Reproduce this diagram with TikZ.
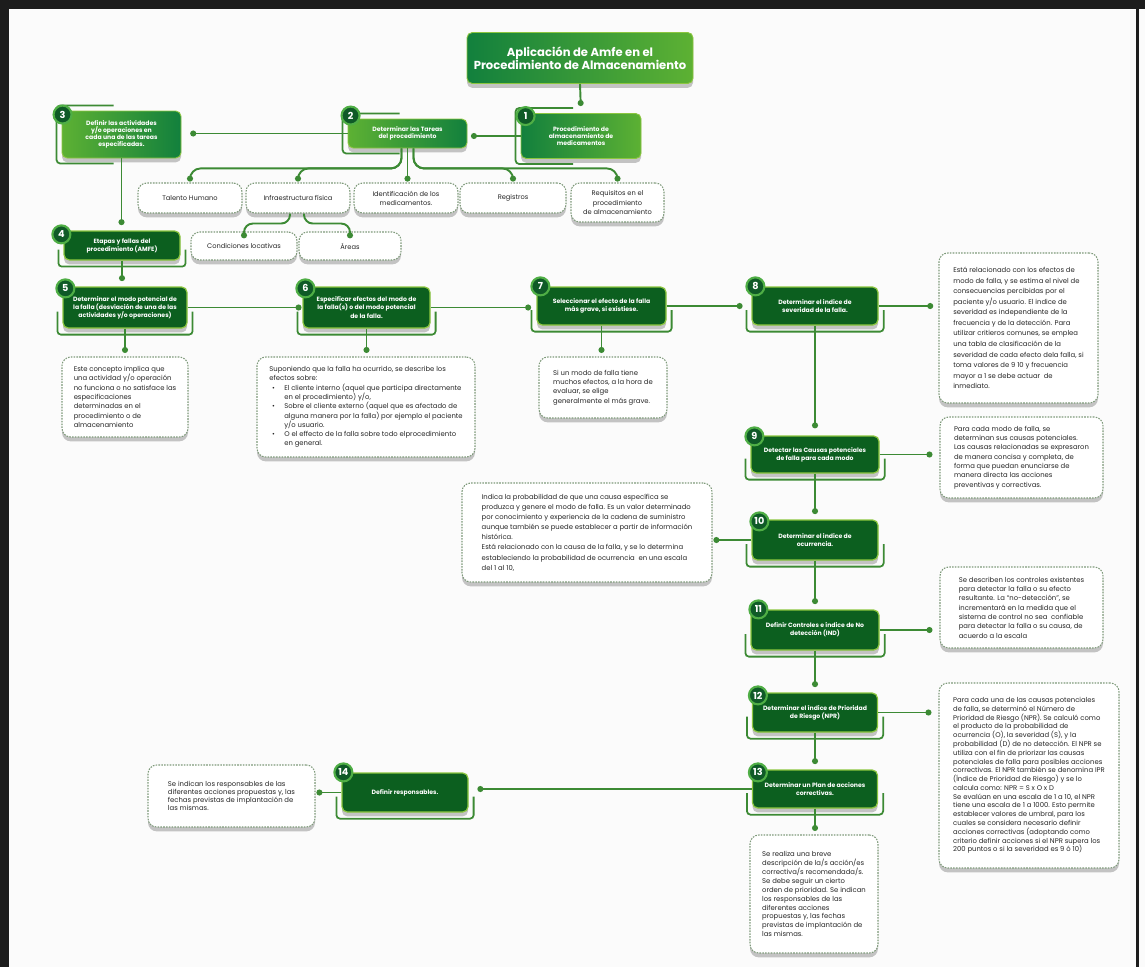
\documentclass[tikz,border=0pt]{standalone}
\usepackage{fontspec}
\setmainfont{Poppins}
\usepackage{xcolor}
\usepackage{tikz}
\usetikzlibrary{arrows.meta,calc,shadows}

\definecolor{deepgreen}{HTML}{0C5F1F}
\definecolor{limeedge}{HTML}{8CC63F}
\definecolor{linegreen}{HTML}{3C8A34}
\definecolor{badgegreen}{HTML}{0F5A27}
\definecolor{ringgreen}{HTML}{4FAE45}
\definecolor{dotedge}{HTML}{7E9A7A}
\definecolor{notetext}{HTML}{262626}
\definecolor{gradlight}{HTML}{5DB133}
\definecolor{graddark}{HTML}{12803D}
\definecolor{paper}{HTML}{FBFBFB}
\definecolor{framedark}{HTML}{1C1C1C}

\newcommand\titlefont{\fontsize{6.6}{7.6}\selectfont\bfseries}
\newcommand\headfont{\fontsize{3.5}{4.1}\selectfont\bfseries}
\newcommand\boxfont{\fontsize{3.5}{4.6}\selectfont\bfseries}
\newcommand\notefont{\fontsize{3.9}{5.3}\selectfont}
\newcommand\catfont{\fontsize{3.8}{5.2}\selectfont}
\newcommand\numfont{\fontsize{5.5}{6}\selectfont\bfseries}

\newcommand\ubr[1]{\draw[brk] ($(#1.west)+(-5,4)$) |- ($(#1.south)+(0,6)$) -| ($(#1.east)+(5,4)$);}
\newcommand\lbr[1]{\draw[brk] ($(#1.north)+(-8,-5)$) -| ($(#1.west)+(-5,0)$) |- ($(#1.south)+(-8,5)$);}

\tikzset{
  sz/.style 2 args={minimum width=#1*0.02cm, minimum height=#2*0.02cm},
  softshadow/.style={drop shadow={shadow xshift=0pt, shadow yshift=-2.5pt, opacity=0.22, fill=black}},
  link/.style={draw=linegreen, line width=1.1pt, -{Circle[length=3.4pt]}, shorten >=3pt},
  brk/.style={draw=linegreen, line width=1pt, rounded corners=2pt},
  topbox/.style={rectangle, rounded corners=3pt, draw=limeedge, line width=0.5pt, text=white, font=\headfont, align=center, inner sep=1pt, softshadow},
  darkbox/.style={rectangle, rounded corners=3pt, fill=deepgreen, draw=limeedge, line width=0.7pt, text=white, font=\boxfont, align=center, inner sep=1pt, softshadow},
  notebox/.style={rectangle, rounded corners=5pt, fill=white, draw=dotedge, line width=0.6pt, dash pattern=on 0.9pt off 0.7pt, text=notetext, font=\notefont, align=left, inner sep=2pt, softshadow},
  catbox/.style={notebox, font=\catfont, align=center},
  numdisc/.style={circle, fill=badgegreen, draw=ringgreen, line width=1.2pt, text=white, font=\numfont, inner sep=0pt, minimum size=18*0.02cm}
}

\begin{document}
\begin{tikzpicture}[x=0.02cm,y=-0.02cm]
\useasboundingbox (0,0) rectangle (1145,967);
\fill[paper] (0,0) rectangle (1145,967);
\fill[framedark] (0,0) rectangle (1145,9);
\fill[framedark] (0,0) rectangle (9,967);
\fill[framedark] (1136,9) rectangle (1138.5,967);

\node[topbox, sz={226}{51}, left color=graddark, right color=gradlight, font=\titlefont] (title) at (580,58) {Aplicación de Amfe en el\\Procedimiento de Almacenamiento};
\node[topbox, sz={120}{45}, left color=graddark, right color=gradlight] (b1) at (581,136) {Procedimiento de\\almacenamiento de\\medicamentos};
\node[topbox, sz={119}{29}, left color=gradlight, right color=graddark] (b2) at (407.5,133.5) {Determinar las Tareas\\del procedimiento};
\node[topbox, sz={119}{47}, left color=gradlight, right color=graddark] (b3) at (121.5,134.5) {Definir las actividades\\y/o operaciones en\\cada una de las tareas\\especificadas.};

\node[catbox, sz={104}{30}] (talento) at (190,198) {Talento Humano};
\node[catbox, sz={104}{30}] (infra) at (298,198) {Infraestructura física};
\node[catbox, sz={104}{30}] (ident) at (406,198) {Identificación de los\\medicamentos.};
\node[catbox, sz={106}{30}] (regis) at (513,198) {Registros};
\node[catbox, sz={93}{39}] (requi) at (617.5,202.5) {Requisitos en el\\procedimiento\\de almacenamiento};
\node[catbox, sz={106}{28}] (cond) at (244,246) {Condiciones locativas};
\node[catbox, sz={102}{28}] (areas) at (350,246) {Áreas};

\node[darkbox, sz={116}{29}] (b4) at (122,245.5) {Etapas y fallas del\\procedimiento (AMFE)};
\node[darkbox, sz={124}{41}] (b5) at (125,307.5) {Determinar el modo potencial de\\la falla (desviación de una de las\\actividades y/o operaciones)};
\node[darkbox, sz={127}{41}] (b6) at (366.5,307.5) {Especificar efectos del modo de\\la falla(s) o del modo potencial\\de la falla.};
\node[darkbox, sz={129}{38}] (b7) at (601.5,306) {Seleccionar el efecto de la falla\\más grave, si existiese.};
\node[darkbox, sz={126}{38}] (b8) at (815,306) {Determinar el indice de\\severidad de la falla.};
\node[darkbox, sz={128}{37}] (b9) at (815,454.5) {Detectar las Causas potenciales\\de falla para cada modo};
\node[darkbox, sz={126}{40}] (b10) at (815,540) {Determinar el indice de\\ocurrencia.};
\node[darkbox, sz={128}{40}] (b11) at (815,630) {Definir Controles e índice de No\\detección (IND)};
\node[darkbox, sz={125}{39}] (b12) at (815,712.5) {Determinar el índice de Prioridad\\de Riesgo (NPR)};
\node[darkbox, sz={125}{38}] (b13) at (815,789) {Determinar un Plan de acciones\\correctivas.};
\node[darkbox, sz={126}{39}] (b14) at (405,792.5) {Definir responsables.};

\node[notebox, sz={126}{80}] (d5) at (125,397) {Este concepto implica que\\una actividad y/o operación\\no funciona o no satisface las\\especificaciones\\determinadas en el\\procedimiento o de\\almacenamiento};
\node[notebox, sz={218}{100}] (d6) at (366,407) {Suponiendo que la falla ha ocurrido, se describe los\\efectos sobre:\\
\hspace*{1.5pt}\makebox[7pt][l]{•}El cliente interno (aquel que participa directamente\\
\hspace*{8.5pt}en el procedimiento) y/o,\\
\hspace*{1.5pt}\makebox[7pt][l]{•}Sobre el cliente externo (aquel que es afectado de\\
\hspace*{8.5pt}alguna manera por la falla) por ejemplo el paciente\\
\hspace*{8.5pt}y/o usuario.\\
\hspace*{1.5pt}\makebox[7pt][l]{•}O el effecto de la falla sobre todo elprocedimiento\\
\hspace*{8.5pt}en general.};
\node[notebox, sz={128}{61}] (d7) at (603,387.5) {Si un modo de falla tiene\\muchos efectos, a la hora de\\evaluar, se elige\\generalmente el más grave.};
\node[notebox, sz={159}{150}, font=\fontsize{3.9}{6}\selectfont] (d8) at (1018.5,328) {Está relacionado con los efectos de\\modo de falla, y se estima el nivel de\\consecuencias percibidas por el\\paciente y/o usuario. El indice de\\severidad es independiente de la\\frecuencia y de la detección. Para\\utilizar critieros comunes, se emplea\\una tabla de clasificación de la\\severidad de cada efecto dela falla, si\\toma valores de 9 10 y frecuencia\\mayor a 1 se debe actuar \ de\\inmediato.};
\node[notebox, sz={163}{81}] (d9) at (1021.5,457.5) {Para cada modo de falla, se\\determinan sus causas potenciales.\\Las causas relacionadas se expresaron\\de manera concisa y completa, de\\forma que puedan enunciarse de\\manera directa las acciones\\preventivas y correctivas.};
\node[notebox, sz={250}{99}, font=\fontsize{3.9}{5.8}\selectfont] (d10) at (587,532.5) {Indica la probabilidad de que una causa específica se\\produzca y genere el modo de falla. Es un valor determinado\\por conocimiento y experiencia de la cadena de suministro\\aunque también se puede establecer a partir de información\\histórica.\\Está relacionado con la causa de la falla, y se lo determina\\estableciendo la probabilidad de ocurrencia \ en una escala\\del 1 al 10,};
\node[notebox, sz={163}{81}] (d11) at (1021.5,607.5) {Se describen los controles existentes\\para detectar la falla o su efecto\\resultante. La ``no-detección'', se\\incrementará en la medida que el\\sistema de control no sea \ confiable\\para detectar la falla o su causa, de\\acuerdo a la escala};
\node[notebox, sz={180}{185}, font=\fontsize{3.9}{5}\selectfont] (d12) at (1029,775.5) {Para cada una de las causas potenciales\\de falla, se determinó el Número de\\Prioridad de Riesgo (NPR). Se calculó como\\el producto de la probabilidad de\\ocurrencia (O), la severidad (S), y la\\probabilidad (D) de no detección. El NPR se\\utiliza con el fin de priorizar las causas\\potenciales de falla para posibles acciones\\correctivas. El NPR también se denomina IPR\\(Índice de Prioridad de Riesgo) y se lo\\calcula como: NPR = S x O x D\\Se evalúan en una escala de 1 a 10, el NPR\\tiene una escala de 1 a 1000. Esto permite\\establecer valores de umbral, para los\\cuales se considera necesario definir\\acciones correctivas (adoptando como\\criterio definir acciones si el NPR supera los\\200 puntos o si la severidad es 9 ó 10)};
\node[notebox, sz={128}{118}, font=\fontsize{3.9}{5.1}\selectfont] (d13) at (814,894) {Se realiza una breve\\descripción de la/s acción/es\\correctiva/s recomendada/s.\\Se debe seguir un cierto\\orden de prioridad. Se indican\\los responsables de las\\diferentes acciones\\propuestas y, las fechas\\previstas de implantación de\\las mismas.};
\node[notebox, sz={167}{62}, font=\fontsize{3.9}{4.6}\selectfont] (d14) at (231.5,796) {Se indican los responsables de las\\diferentes acciones propuestas y, las\\fechas previstas de implantación de\\las mismas.};

\draw[link, shorten >=4pt] (title.south) -- (b1.north);
\draw[link, shorten >=2pt] (b1.west) -- (b1.west -| b2.east);
\draw[link, shorten >=5pt] (b2.west) -- (b2.west -| b3.east);
\draw[link, rounded corners=6pt, shorten >=0.5pt] ($(b2.south)+(-6,0)$) -- ++(0,20) -| (talento.north);
\draw[link, rounded corners=6pt, shorten >=0.5pt] ($(b2.south)+(-6,0)$) -- ++(0,20) -| (infra.north);
\draw[link, shorten >=0.5pt] (b2.south) -- (b2.south |- ident.north);
\draw[link, rounded corners=6pt, shorten >=0.5pt] ($(b2.south)+(6,0)$) -- ++(0,20) -| (regis.north);
\draw[link, rounded corners=6pt, shorten >=0.5pt] ($(b2.south)+(6,0)$) -- ++(0,20) -| (requi.north);
\draw[link, rounded corners=5pt, shorten >=0.5pt] ($(infra.south)+(-8,0)$) -- ++(0,10) -| (cond.north);
\draw[link, rounded corners=5pt, shorten >=0.5pt] ($(infra.south)+(6,0)$) -- ++(0,10) -| (areas.north);

\draw[link, shorten >=3pt] (b3.south) -- (b3.south |- b4.north);
\draw[link] (b4.south) -- (b4.south |- b5.north);
\draw[link, shorten >=0.5pt] (b5.east) -- (b5.east -| b6.west);
\draw[link] (b6.east) -- (b6.east -| b7.west);
\draw[link, shorten >=5pt] (b7.east) -- (b7.east -| b8.west);
\draw[link] (b8.east) -- (b8.east -| d8.west);
\draw[link, shorten >=2pt] (b5.south) -- (b5.south |- d5.north);
\draw[link, shorten >=2pt] (b6.south) -- (b6.south |- d6.north);
\draw[link, shorten >=2pt] (b7.south) -- (b7.south |- d7.north);
\draw[link, shorten >=4pt] (b8.south) -- (b8.south |- b9.north);
\draw[link, shorten >=4pt] (b9.east) -- (b9.east -| d9.west);
\draw[link] (b9.south) -- (b9.south |- b10.north);
\draw[link, shorten >=0.5pt] (b10.west) -- (b10.west -| d10.east);
\draw[link] (b10.south) -- (b10.south |- b11.north);
\draw[link, shorten >=4pt] (b11.east) -- (b11.east -| d11.west);
\draw[link] (b11.south) -- (b11.south |- b12.north);
\draw[link, shorten >=4pt] (b12.east) -- (b12.east -| d12.west);
\draw[link] (b12.south) -- (b12.south |- b13.north);
\draw[link, shorten >=2pt] (b13.south) -- (b13.south |- d13.north);
\draw[link, shorten >=5pt] (b13.west) -- (b13.west -| b14.east);
\draw[link, shorten >=0.5pt] (b14.west) -- (b14.west -| d14.east);

\lbr{b1} \lbr{b2} \lbr{b3}
\ubr{b4} \ubr{b5} \ubr{b6} \ubr{b7} \ubr{b8} \ubr{b9}
\ubr{b10} \ubr{b11} \ubr{b12} \ubr{b13} \ubr{b14}

\node[numdisc] (n1) at ($(b1.north west)+(5,3)$) {1};
\node[numdisc] (n2) at ($(b2.north west)+(3,-3)$) {2};
\node[numdisc] (n3) at ($(b3.north west)+(1,4)$) {3};
\node[numdisc] (n4) at ($(b4.north west)+(-2,4)$) {4};
\node[numdisc] (n5) at ($(b5.north west)+(3,2)$) {5};
\node[numdisc] (n6) at ($(b6.north west)+(3,2)$) {6};
\node[numdisc] (n7) at ($(b7.north west)+(4,0)$) {7};
\node[numdisc] (n8) at ($(b8.north west)+(4,0)$) {8};
\node[numdisc] (n9) at ($(b9.north west)+(4,1)$) {9};
\node[numdisc] (n10) at ($(b10.north west)+(8,2)$) {10};
\node[numdisc] (n11) at ($(b11.north west)+(8,0)$) {11};
\node[numdisc] (n12) at ($(b12.north west)+(6,3)$) {12};
\node[numdisc] (n13) at ($(b13.north west)+(6,3)$) {13};
\node[numdisc] (n14) at ($(b14.north west)+(2,0)$) {14};
\end{tikzpicture}
\end{document}
